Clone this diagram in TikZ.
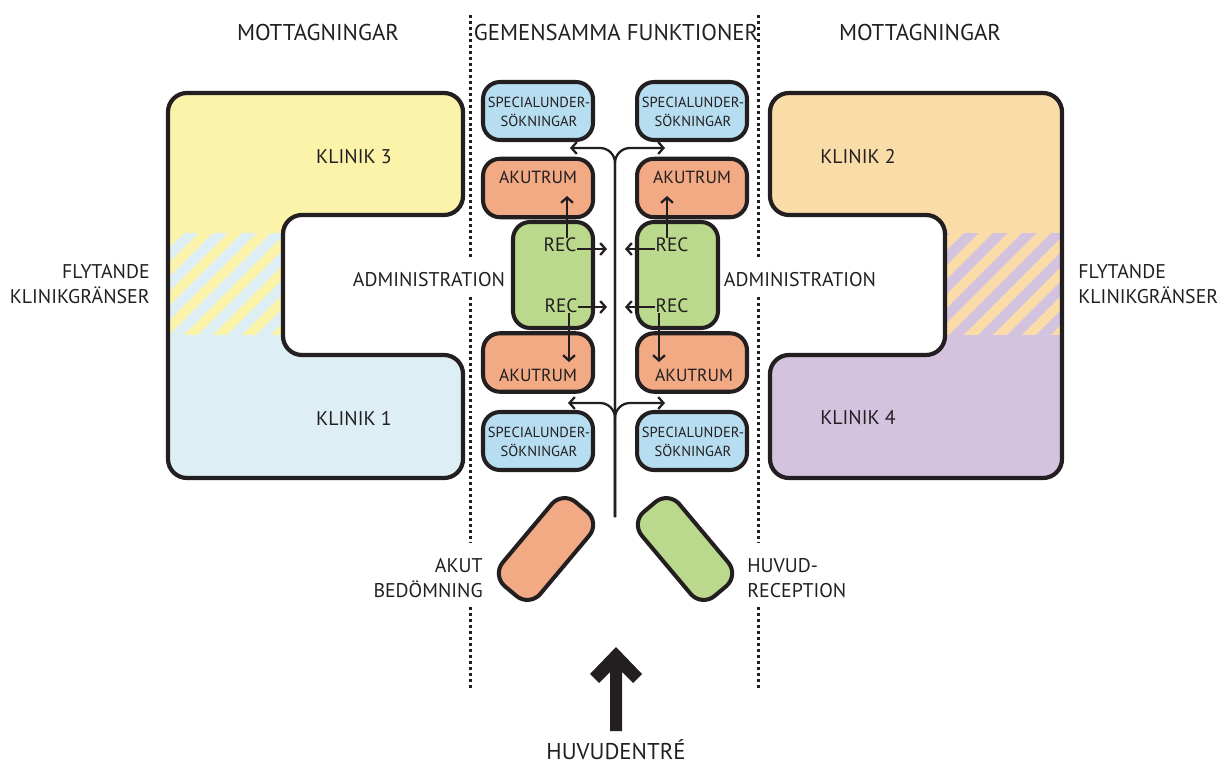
\documentclass[tikz,border=0pt]{standalone}
\usepackage{fontspec}
\setmainfont{PT Sans}
\usetikzlibrary{arrows.meta}
\definecolor{ink}{HTML}{231F20}
\definecolor{clinyellow}{HTML}{FBF3AA}
\definecolor{clinblue}{HTML}{DDEFF5}
\definecolor{clinorange}{HTML}{FADCA9}
\definecolor{clinpurple}{HTML}{D3C3DF}
\definecolor{spblue}{HTML}{B7DDF1}
\definecolor{akorange}{HTML}{F2AA84}
\definecolor{recgreen}{HTML}{BBD98C}
\begin{document}
\begin{tikzpicture}[x=0.02cm,y=-0.02cm,
  outline/.style={draw=ink,line width=2.4pt,rounded corners=0.38cm},
  roombox/.style={draw=ink,line width=2.3pt,rounded corners=0.34cm,inner sep=0pt},
  spbox/.style={roombox,fill=spblue,minimum width=2.2cm,minimum height=1.16cm},
  akbox/.style={roombox,fill=akorange,minimum width=2.2cm,minimum height=1.17cm},
  recbox/.style={roombox,fill=recgreen,minimum height=2.12cm},
  txt/.style={inner sep=0pt,text=ink},
  hdr/.style={txt,font=\fontsize{13}{15}\selectfont},
  lbl/.style={txt,font=\fontsize{11.3}{14.7}\selectfont},
  sptxt/.style={txt,align=center,font=\fontsize{8.3}{10.6}\selectfont},
  aktxt/.style={txt,font=\fontsize{10}{12}\selectfont},
  rectxt/.style={txt,font=\fontsize{11}{13}\selectfont},
  dotline/.style={draw=ink,line width=1.7pt,dash pattern=on 1.7pt off 1.7pt},
  flow/.style={draw=ink,line width=1.3pt},
  arr/.style={flow,-{Straight Barb[length=3pt,width=6.8pt]}},
]
\useasboundingbox (0,0) rectangle (1229,767);

% ---------- left clinic block (Klinik 3 / Klinik 1) ----------
\begin{scope}
  \clip[rounded corners=0.38cm] (168,93) -- (463,93) -- (463,215) -- (283,215)
     -- (283,355) -- (463,355) -- (463,478) -- (168,478) -- cycle;
  \fill[clinyellow] (150,80) rectangle (480,234);
  \fill[clinblue] (150,334) rectangle (480,490);
  \fill[clinyellow] (150,233) rectangle (300,335);
  \begin{scope}
    \clip (150,233) rectangle (300,335);
    \foreach \k in {-5,...,6}
      \fill[clinblue] ({140+\k*29},335) -- ({154.5+\k*29},335)
        -- ({256.5+\k*29},233) -- ({242+\k*29},233) -- cycle;
  \end{scope}
\end{scope}
\draw[outline] (168,93) -- (463,93) -- (463,215) -- (283,215)
   -- (283,355) -- (463,355) -- (463,478) -- (168,478) -- cycle;

% ---------- right clinic block (Klinik 2 / Klinik 4) ----------
\begin{scope}
  \clip[rounded corners=0.38cm] (770,93) -- (1062,93) -- (1062,478) -- (770,478)
     -- (770,355) -- (945,355) -- (945,215) -- (770,215) -- cycle;
  \fill[clinorange] (750,80) rectangle (1080,234);
  \fill[clinpurple] (750,334) rectangle (1080,490);
  \fill[clinorange] (930,233) rectangle (1080,335);
  \begin{scope}
    \clip (930,233) rectangle (1080,335);
    \foreach \k in {-5,...,6}
      \fill[clinpurple] ({920+\k*29},335) -- ({934.5+\k*29},335)
        -- ({1036.5+\k*29},233) -- ({1022+\k*29},233) -- cycle;
  \end{scope}
\end{scope}
\draw[outline] (770,93) -- (1062,93) -- (1062,478) -- (770,478)
   -- (770,355) -- (945,355) -- (945,215) -- (770,215) -- cycle;

% ---------- zone boundaries ----------
\draw[dotline] (470,15) -- (470,258) (470,297) -- (470,542) (470,607) -- (470,690);
\draw[dotline] (758,15) -- (758,258) (758,297) -- (758,542) (758,607) -- (758,690);

% ---------- shared functions: rooms ----------
\node[spbox] (spTL) at (538,111) {};
\node[spbox] (spTR) at (692,111) {};
\node[akbox] (akTL) at (538,188) {};
\node[akbox] (akTR) at (692,188) {};
\node[recbox,minimum width=1.6cm] (recL) at (553,275) {};
\node[recbox,minimum width=1.62cm] (recR) at (677.5,275) {};
\node[akbox] (akBL) at (538,362.5) {};
\node[akbox] (akBR) at (692,362.5) {};
\node[spbox] (spBL) at (538,441) {};
\node[spbox] (spBR) at (692,441) {};

\node[sptxt] (spTLt) at (539,112) {SPECIALUNDER-\\SÖKNINGAR};
\node[sptxt] (spTRt) at (693,112) {SPECIALUNDER-\\SÖKNINGAR};
\node[sptxt] (spBLt) at (539,442) {SPECIALUNDER-\\SÖKNINGAR};
\node[sptxt] (spBRt) at (693,442) {SPECIALUNDER-\\SÖKNINGAR};
\node[aktxt] (akTLt) at (538,177) {AKUTRUM};
\node[aktxt] (akTRt) at (692,177) {AKUTRUM};
\node[aktxt] (akBLt) at (538,375) {AKUTRUM};
\node[aktxt] (akBRt) at (694,375) {AKUTRUM};

\node[rectxt] (rec1) at (560,245) {REC};
\node[rectxt] (rec2) at (561,306) {REC};
\node[rectxt] (rec3) at (672,245) {REC};
\node[rectxt] (rec4) at (672,306) {REC};

% ---------- entrance rooms ----------
\node[roombox,fill=akorange,minimum width=2.2cm,minimum height=0.98cm,rotate=50]
  (akbed) at (546,549) {};
\node[roombox,fill=recgreen,minimum width=2.2cm,minimum height=0.98cm,rotate=-50]
  (huvrec) at (685,549) {};

% ---------- circulation ----------
\coordinate (trunk) at (615,517);
\coordinate (toTL) at (570,148);
\coordinate (toTR) at (665,148);
\coordinate (toBL) at (568,403);
\coordinate (toBR) at (665,403);
\draw[arr,rounded corners=0.3cm] (trunk) |- (toTL);
\draw[arr,rounded corners=0.3cm] (trunk) |- (toTR);
\draw[arr,rounded corners=0.3cm] (trunk) |- (toBL);
\draw[arr,rounded corners=0.3cm] (trunk) |- (toBR);

\coordinate (r1e) at (607,249);
\coordinate (r2e) at (607,307);
\coordinate (r3e) at (625,249);
\coordinate (r4e) at (625,307);
\draw[arr] (rec1.east |- r1e) -- (r1e);
\draw[arr] (rec2.east |- r2e) -- (r2e);
\draw[arr] (rec3.west |- r3e) -- (r3e);
\draw[arr] (rec4.west |- r4e) -- (r4e);

\coordinate (u1) at (567,196);
\coordinate (u3) at (667,196);
\coordinate (d2) at (569,362);
\coordinate (d4) at (659,362);
\draw[arr] (u1 |- rec1.north) -- (u1);
\draw[arr] (u3 |- rec3.north) -- (u3);
\draw[arr] (d2 |- rec2.south) -- (d2);
\draw[arr] (d4 |- rec4.south) -- (d4);

% ---------- labels ----------
\node[hdr] (mottL) at (318,33) {MOTTAGNINGAR};
\node[hdr] (gem) at (616,33) {GEMENSAMMA FUNKTIONER};
\node[hdr] (mottR) at (920,33) {MOTTAGNINGAR};
\node[lbl,anchor=east,align=right] (flytL) at (150,284) {FLYTANDE\\KLINIKGRÄNSER};
\node[lbl,anchor=west,align=left] (flytR) at (1078,284) {FLYTANDE\\KLINIKGRÄNSER};
\node[lbl] (k3) at (354,157) {KLINIK 3};
\node[lbl] (k1) at (354,419) {KLINIK 1};
\node[lbl] (k2) at (858,157) {KLINIK 2};
\node[lbl] (k4) at (858,418) {KLINIK 4};
\node[lbl] (admL) at (429,280) {ADMINISTRATION};
\node[lbl] (admR) at (800,280) {ADMINISTRATION};
\node[lbl,anchor=east,align=right] (akbedt) at (483,578) {AKUT\\BEDÖMNING};
\node[lbl,anchor=west,align=left] (huvrect) at (747,578) {HUVUD-\\RECEPTION};
\node[hdr] (entre) at (616,750) {HUVUDENTRÉ};

% ---------- main entrance arrow ----------
\fill[ink] (616,647) -- (642,674) -- (633,683) -- (622,672) -- (622,731)
  -- (610,731) -- (610,672) -- (599,683) -- (590,674) -- cycle;
\end{tikzpicture}
\end{document}
